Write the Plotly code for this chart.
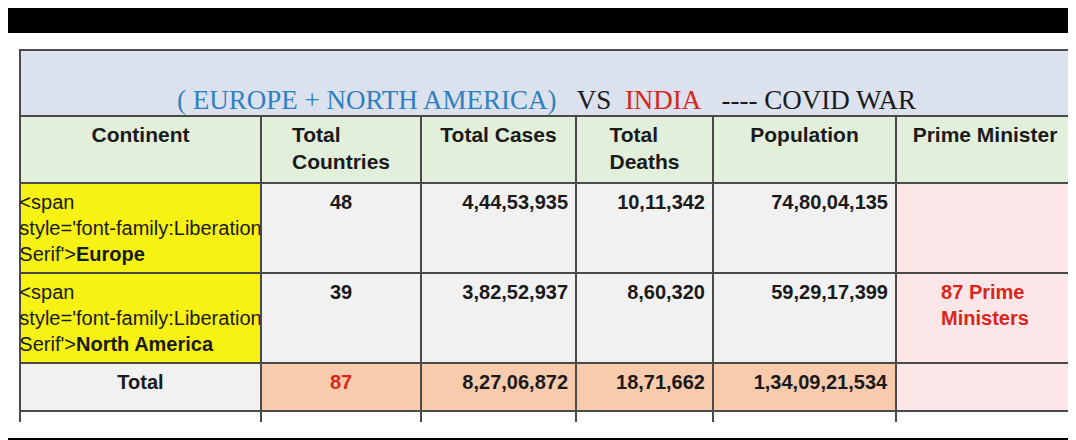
import plotly.graph_objects as go

W, H = 1076, 440

headers = ["Continent", "Total<br>Countries", "Total Cases", "Total<br>Deaths", "Population", "Prime Minister"]
continents = ["Europe", "North America", "Total", "", ""]
countries = ["48", "39", "87", "", "1 India"]
cases = ["4,44,53,935", "3,82,52,937", "8,27,06,872", "", "1,87,54,984"]
deaths = ["10,11,342", "8,60,320", "18,71,662", "", "2,08,313"]
population = ["74,80,04,135", "59,29,17,399", "1,34,09,21,534", "", "1,39,11,97,718"]
ministers = ["", "87 Prime<br>Ministers", "", "", "Only 1 Modi"]
serif_rows = ["Europe", "North America"]

grey = "#f1f1f1"
peach = "#f8cbad"
cream = "#fff2cc"
pink = "#fde6e8"
line = "#4a4a4a"

fills = [
    ["#f7f214", "#f7f214", grey, "white", "white"],
    [grey, grey, peach, "white", "#f7a03e"],
    [grey, grey, peach, "white", cream],
    [grey, grey, peach, "white", cream],
    [grey, grey, peach, "white", cream],
    [pink, pink, pink, "white", "#f46d1e"],
]
fcolors = [["#1a1a1a"] * 5, ["#1a1a1a", "#1a1a1a", "#d9261c", "#1a1a1a", "#1a1a1a"],
           ["#1a1a1a"] * 5, ["#1a1a1a"] * 5, ["#1a1a1a"] * 5,
           ["#d9261c", "#d9261c", "#d9261c", "#1a1a1a", "#1a1a1a"]]


def fmt(v):
    if not v:
        return ""
    if v in serif_rows:
        return "<span style='font-family:Liberation Serif'><b>%s</b></span>" % v
    return "<b>%s</b>" % v


fig = go.Figure(go.Table(
    domain=dict(x=[12 / W, 1066 / W], y=[1 - 414 / H, 1 - 107 / H]),
    columnwidth=[241, 160, 155, 137, 183, 178],
    header=dict(values=["<b>%s</b>" % h for h in headers],
                fill_color="#e2efda", line=dict(color=line, width=2),
                align="center", height=68,
                font=dict(family="Liberation Sans", size=21, color="#1a1a1a")),
    cells=dict(values=[[fmt(v) for v in col] for col in
                       [continents, countries, cases, deaths, population, ministers]],
               fill_color=fills, line=dict(color=line, width=2),
               align=["center", "center", "right", "right", "right", "center"],
               height=48,
               font=dict(family="Liberation Sans", size=20, color=fcolors)),
))

# black bands and title box
fig.add_shape(type="rect", xref="paper", yref="paper", x0=0, x1=1, y0=1 - 25 / H, y1=1,
              fillcolor="black", line_width=0)
fig.add_shape(type="rect", xref="paper", yref="paper", x0=0, x1=1, y0=0, y1=10 / H,
              fillcolor="black", line_width=0)
fig.add_shape(type="rect", xref="paper", yref="paper", x0=12 / W, x1=1066 / W,
              y0=1 - 108 / H, y1=1 - 42 / H, fillcolor="#dbe2ee", line=dict(color=line, width=2))
fig.add_annotation(
    xref="paper", yref="paper", x=0.5, y=1 - 75 / H, showarrow=False,
    text="<span style='color:#2f7fc1'>( EUROPE + NORTH AMERICA)</span>&nbsp;&nbsp;&nbsp;VS&nbsp;&nbsp;"
         "<span style='color:#d9261c'>INDIA</span>&nbsp;&nbsp;&nbsp;---- COVID WAR",
    font=dict(family="Liberation Serif", size=27, color="#1a1a1a"))

fig.update_layout(width=W, height=H, margin=dict(l=0, r=0, t=0, b=0),
                  paper_bgcolor="white")
fig.write_html("out.html")
